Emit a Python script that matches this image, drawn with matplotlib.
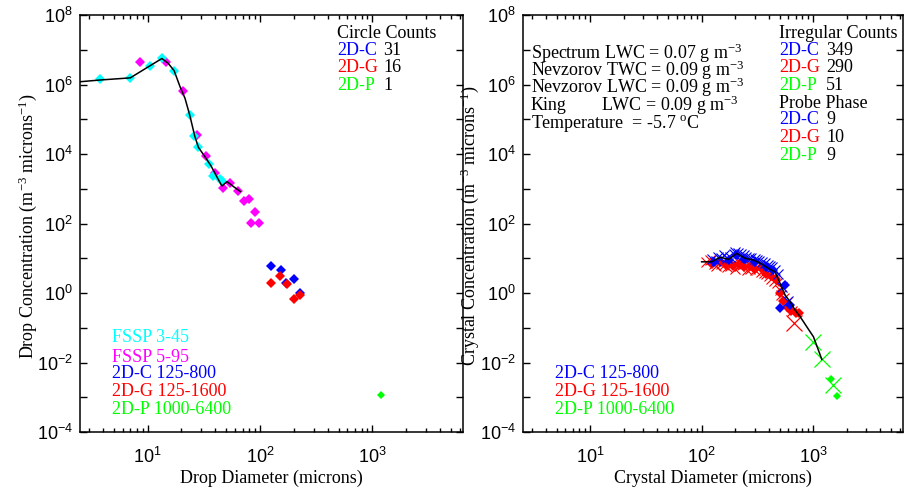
import math

import matplotlib
matplotlib.use("Agg")
import matplotlib.pyplot as plt
from matplotlib.ticker import FixedLocator, FuncFormatter, LogLocator, NullLocator

plt.rcParams["font.family"] = ["Liberation Serif", "DejaVu Serif"]

W, H = 905, 491

# ---- left panel: drops ----
fssp1_d = [3.8, 7.0, 10.4, 13.4, 17.2, 23.7, 26.0, 28.3, 35.0, 38.0, 44.0, 46.0]
fssp1_c = [1.4e6, 1.55e6, 3.4e6, 5.9e6, 2.5e6, 1.3e5, 3.2e4, 1.55e4, 5.0e3, 2.3e3, 1.9e3, 1.7e3]
fssp2_d = [8.5, 14.7, 20.5, 27.3, 33.1, 40.0, 46.8, 54.3, 63.3, 71.6, 79.3, 89.6, 83.5, 97.8]
fssp2_c = [4.3e6, 4.3e6, 6.5e5, 3.5e4, 8.7e3, 2.75e3, 1.07e3, 1.45e3, 8.7e2, 4.3e2, 5.1e2, 2.2e2, 1.05e2, 1.05e2]
drop_2dc_d = [126, 153, 169, 199, 228]
drop_2dc_c = [6.1, 4.6, 2.0, 2.5, 1.0]
drop_2dg_d = [126, 151, 175, 199, 228]
drop_2dg_c = [2.0, 3.1, 1.8, 0.66, 0.9]
drop_2dp_d = [1200]
drop_2dp_c = [1.15e-3]
drop_fit_d = [2.5, 3.8, 7.0, 10.4, 13.4, 15.2, 17.2, 19.4, 21.5, 23.7, 26.3, 28.3,
              32.4, 36.7, 41.3, 45.8, 50.8, 58.2, 66.8]
drop_fit_c = [1.2e6, 1.35e6, 1.55e6, 3.4e6, 5.6e6, 4.1e6, 2.5e6, 8.7e5, 4.0e5, 1.3e5,
              3.2e4, 1.55e4, 8.3e3, 4.5e3, 2.2e3, 1.2e3, 1.6e3, 1.15e3, 8.3e2]

# ---- right panel: crystals ----
xc_2dc_d = [125, 135, 140, 150, 160, 170, 180, 195, 200, 210, 225, 240, 250, 265, 280,
            300, 315, 330, 350, 370, 390, 410, 430, 455, 480, 530, 600]
xc_2dc_c = [9.5, 8.5, 11, 10, 12, 10.5, 11, 13, 15, 14, 13, 12, 11, 10.5, 10,
            9.5, 9, 8.5, 8, 7.5, 6.5, 6, 5.5, 4.5, 3.5, 1.5, 0.6]
dc_2dc_d = [130, 175, 205, 240, 300, 380, 440, 505, 560, 620]
dc_2dc_c = [8, 9, 12, 9.5, 8, 5.5, 4.5, 0.36, 1.7, 0.45]
xc_2dg_d = [110, 120, 128, 135, 150, 160, 170, 180, 190, 200, 215, 230, 240, 255, 270,
            285, 300, 320, 340, 360, 380, 400, 420, 445, 470, 500, 520, 550, 580, 640]
xc_2dg_c = [8, 9, 7, 6, 7, 6.5, 5.5, 6, 7.5, 5, 6, 6.5, 7, 4.5, 5,
            5.5, 4.5, 4.8, 4, 3.8, 3.5, 3, 2.5, 2.2, 2.0, 1.2, 0.9, 0.7, 0.55, 0.3]
dc_2dg_d = [125, 145, 165, 190, 215, 240, 270, 300, 340, 380, 420, 460, 500, 540, 580, 630, 700, 740]
dc_2dg_c = [7, 8, 6.5, 6, 7, 5.5, 6, 5, 5.5, 3.5, 3, 2.5, 1.0, 0.6, 0.4, 0.3, 0.26, 0.26]
big_2dg_d = [675]
big_2dg_c = [0.134]
xc_2dp_d = [1000, 1197, 1500]
xc_2dp_c = [0.04, 0.0123, 2.2e-3]
dc_2dp_d = [1440, 1648]
dc_2dp_c = [3.4e-3, 1.1e-3]
crys_fit_d = [100, 123, 147, 174, 207, 245, 292, 347, 411, 456, 505, 561, 622, 690,
              764, 877, 1007, 1197]
crys_fit_c = [7.9, 7.9, 10.7, 9.3, 13.8, 10.0, 8.9, 6.8, 4.8, 4.1, 1.9, 0.87, 0.56,
              0.32, 0.21, 0.107, 0.055, 0.0123]

CYAN, MAG, BLUE, RED, GREEN = "#00ffff", "#ff00ff", "#0000ff", "#ff0000", "#00ff00"


def px(x, y):
    return x / W, 1 - y / H


def exp_label(v, even_only):
    e = round(math.log10(v))
    if even_only and e % 2:
        return ""
    return "$\\mathregular{10^{%d}}$" % e


def style_axes(ax):
    ax.set_xscale("log")
    ax.set_yscale("log")
    ax.set_xlim(2.5, 6400)
    ax.set_ylim(1e-4, 1e8)
    ax.yaxis.set_major_locator(FixedLocator([10.0 ** e for e in range(-4, 9)]))
    ax.yaxis.set_minor_locator(NullLocator())
    ax.yaxis.set_major_formatter(FuncFormatter(lambda v, p: exp_label(v, True)))
    ax.xaxis.set_major_locator(FixedLocator([10, 100, 1000]))
    ax.xaxis.set_minor_locator(LogLocator(base=10, subs=range(2, 10)))
    ax.xaxis.set_major_formatter(FuncFormatter(lambda v, p: exp_label(v, False)))
    ax.tick_params(which="both", direction="in", top=True, right=True,
                   labelsize=13, labelfontfamily="Liberation Sans", width=1.0)
    ax.tick_params(which="major", length=5, pad=5)
    ax.tick_params(axis="x", which="major", pad=11)
    ax.tick_params(which="minor", length=3)
    for s in ax.spines.values():
        s.set_linewidth(1.1)


fig = plt.figure(figsize=(W / 100, H / 100), dpi=100)
ax1 = fig.add_axes([80 / W, 1 - 432 / H, 383 / W, 417 / H])
ax2 = fig.add_axes([523 / W, 1 - 432 / H, 380 / W, 417 / H])

mk = dict(marker="D", linestyle="none", markersize=5, markeredgewidth=0)
ax1.plot(fssp2_d, fssp2_c, color=MAG, **mk)
ax1.plot(fssp1_d, fssp1_c, color=CYAN, **mk)
ax1.plot(drop_2dc_d, drop_2dc_c, color=BLUE, **mk)
ax1.plot(drop_2dg_d, drop_2dg_c, color=RED, **mk)
ax1.plot(drop_2dp_d, drop_2dp_c, color=GREEN, marker="D", linestyle="none",
         markersize=4, markeredgewidth=0)
ax1.plot(drop_fit_d, drop_fit_c, color="black", linewidth=1.1)
style_axes(ax1)

xm = dict(marker="x", linestyle="none", markersize=7, markeredgewidth=0.8)
ax2.plot(xc_2dg_d, xc_2dg_c, color=RED, **xm)
ax2.plot(dc_2dg_d, dc_2dg_c, color=RED, **mk)
ax2.plot(xc_2dc_d, xc_2dc_c, color=BLUE, **xm)
ax2.plot(dc_2dc_d, dc_2dc_c, color=BLUE, **mk)
ax2.plot(big_2dg_d, big_2dg_c, color=RED, marker="x", linestyle="none",
         markersize=11, markeredgewidth=0.9)
ax2.plot(xc_2dp_d, xc_2dp_c, color=GREEN, marker="x", linestyle="none",
         markersize=11, markeredgewidth=0.9)
ax2.plot(dc_2dp_d, dc_2dp_c, color=GREEN, marker="D", linestyle="none",
         markersize=4, markeredgewidth=0)
ax2.plot(crys_fit_d, crys_fit_c, color="black", linewidth=1.1)
style_axes(ax2)

FS = 13


def sup(s):
    return "$\\mathregular{^{%s}}$" % s


# axis labels
fig.text(*px(271, 478), "Drop Diameter (microns)", ha="center", va="center", fontsize=FS)
fig.text(*px(713, 478), "Crystal Diameter (microns)", ha="center", va="center", fontsize=FS)
fig.text(*px(28, 226), "Drop Concentration (m" + sup("-3") + " microns" + sup("-1") + ")",
         ha="center", va="center", rotation=90, fontsize=FS)
fig.text(*px(470, 226), "Crystal Concentration (m" + sup("-3") + " microns" + sup("-1") + ")",
         ha="center", va="center", rotation=90, fontsize=FS)

# left panel annotations
fig.text(*px(337, 33), "Circle Counts", va="center", fontsize=FS)
for y, lab, col, n in [(50, "2D-C", BLUE, "31"), (68, "2D-G", RED, "16"), (85, "2D-P", GREEN, "1")]:
    fig.text(*px(337, y), lab, va="center", color=col, fontsize=FS)
    fig.text(*px(383, y), n, va="center", fontsize=FS)

for y, lab, col in [(338, "FSSP 3-45", CYAN), (357, "FSSP 5-95", MAG), (374, "2D-C 125-800", BLUE),
                    (392, "2D-G 125-1600", RED), (409, "2D-P 1000-6400", GREEN)]:
    fig.text(*px(112, y), lab, va="center", color=col, fontsize=FS)

# right panel annotations
fig.text(*px(531, 53), "Spectrum LWC = 0.07 g m" + sup("-3"), va="center", fontsize=FS)
fig.text(*px(531, 70), "Nevzorov TWC = 0.09 g m" + sup("-3"), va="center", fontsize=FS)
fig.text(*px(531, 87), "Nevzorov LWC = 0.09 g m" + sup("-3"), va="center", fontsize=FS)
fig.text(*px(531, 105), "King", va="center", fontsize=FS)
fig.text(*px(601, 105), "LWC = 0.09 g m" + sup("-3"), va="center", fontsize=FS)
fig.text(*px(531, 123), "Temperature  = -5.7 " + sup("o") + "C", va="center", fontsize=FS)

fig.text(*px(779, 33), "Irregular Counts", va="center", fontsize=FS)
for y, lab, col, n in [(50, "2D-C", BLUE, "349"), (68, "2D-G", RED, "290"), (85, "2D-P", GREEN, "51")]:
    fig.text(*px(779, y), lab, va="center", color=col, fontsize=FS)
    fig.text(*px(826, y), n, va="center", fontsize=FS)
fig.text(*px(779, 103), "Probe Phase", va="center", fontsize=FS)
for y, lab, col, n in [(120, "2D-C", BLUE, "9"), (138, "2D-G", RED, "10"), (155, "2D-P", GREEN, "9")]:
    fig.text(*px(779, y), lab, va="center", color=col, fontsize=FS)
    fig.text(*px(826, y), n, va="center", fontsize=FS)

for y, lab, col in [(374, "2D-C 125-800", BLUE), (392, "2D-G 125-1600", RED),
                    (409, "2D-P 1000-6400", GREEN)]:
    fig.text(*px(555, y), lab, va="center", color=col, fontsize=FS)

fig.savefig("out.png", dpi=100)
